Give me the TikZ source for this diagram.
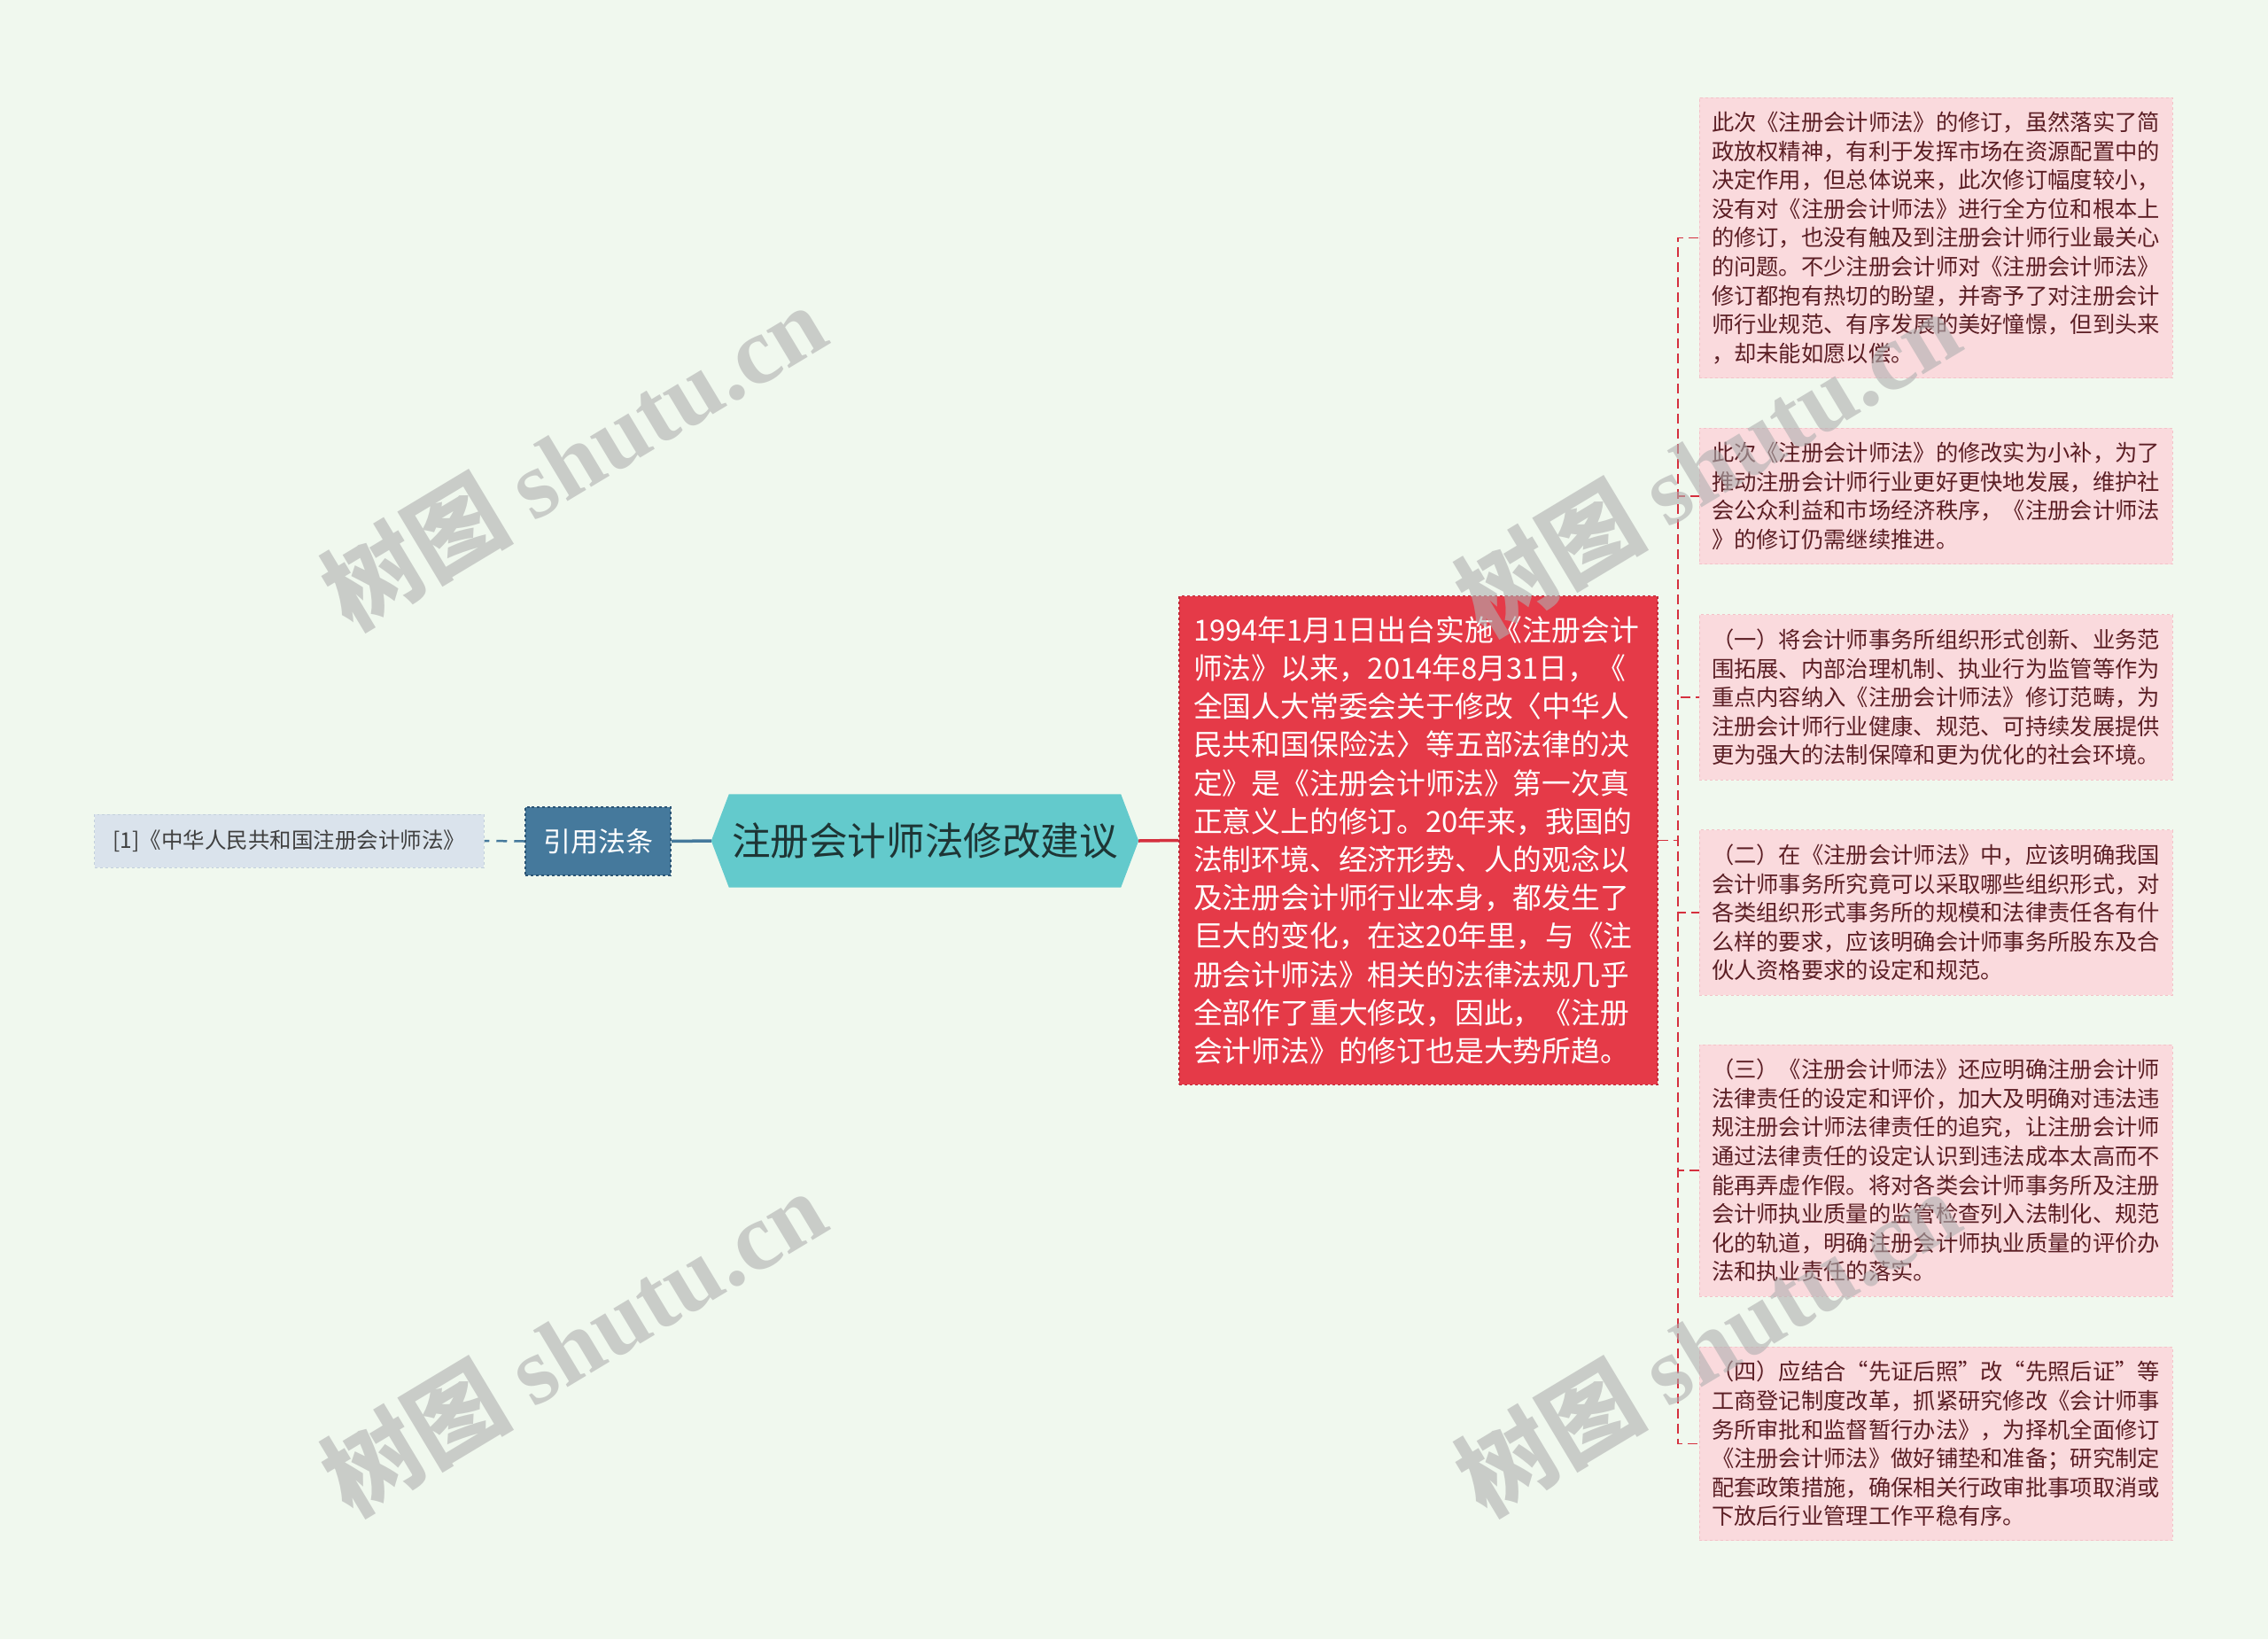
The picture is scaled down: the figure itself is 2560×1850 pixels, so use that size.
\documentclass[tikz,border=0pt]{standalone}
\usepackage{fontspec}
\setmainfont{Noto Sans CJK SC}
\newfontfamily\wmlatin{Liberation Serif}
\usetikzlibrary{backgrounds}
\definecolor{bgc}{HTML}{F0F8EE}
\definecolor{rootfill}{HTML}{63CACC}
\definecolor{roottext}{HTML}{1E3535}
\definecolor{citefill}{HTML}{45799C}
\definecolor{citeborder}{HTML}{2B5575}
\definecolor{reffill}{HTML}{DAE3EC}
\definecolor{refborder}{HTML}{C3D0DC}
\definecolor{reftext}{HTML}{404040}
\definecolor{redfill}{HTML}{E53A48}
\definecolor{redborder}{HTML}{C02A38}
\definecolor{redline}{HTML}{D5303E}
\definecolor{pinkfill}{HTML}{FADADD}
\definecolor{pinkborder}{HTML}{F3C2C8}
\definecolor{pinktext}{HTML}{5B1E24}
\definecolor{wmgray}{HTML}{B0B0B0}
\tikzset{
  rootnode/.style={minimum width=482bp, minimum height=105bp, inner sep=0pt, text=roottext, font=\fontsize{43.6bp}{50bp}\selectfont},
  citenode/.style={rectangle, fill=citefill, draw=citeborder, dashed, line width=1.5bp, minimum width=164bp, minimum height=77bp, inner sep=0pt, text=white, font=\fontsize{31bp}{36bp}\selectfont},
  refnode/.style={rectangle, fill=reffill, draw=refborder, dashed, line width=1bp, minimum width=439bp, minimum height=60bp, inner sep=0pt, text=reftext, font=\fontsize{24.5bp}{30bp}\selectfont},
  rednode/.style={rectangle, fill=redfill, draw=redborder, dashed, line width=1.5bp, text=white, text width=508bp, inner xsep=16bp, inner ysep=23bp, align=left, font=\fontsize{32.8bp}{43.2bp}\selectfont},
  pinkleaf/.style={rectangle, fill=pinkfill, draw=pinkborder, dashed, line width=1bp, text=pinktext, text width=506bp, inner xsep=14bp, inner ysep=16bp, align=left, font=\fontsize{25.3bp}{32.6bp}\selectfont},
  bluelink/.style={draw=citefill, line width=3.5bp},
  bluedash/.style={draw=citefill, line width=2.5bp, dash pattern=on 12bp off 8bp},
  redlink/.style={draw=redline, line width=3.5bp},
  reddash/.style={draw=redline, line width=1.8bp, dash pattern=on 11bp off 6bp},
  watermark/.style={rotate=31, text=wmgray, text opacity=0.6, inner sep=0pt, font=\fontsize{108bp}{116bp}\selectfont\bfseries}
}
\begin{document}
\begin{tikzpicture}[x=1bp,y=-1bp]
\useasboundingbox (0,0) rectangle (2560,1850);

\node[rootnode] (root) at (1044,949) {注册会计师法修改建议};
\node[citenode] (cite) at (675,949.5) {引用法条};
\node[refnode] (ref) at (326.5,949) {[1]《中华人民共和国注册会计师法》};

\node[rednode] (red) at (1601,948.5) {1994年1月1日出台实施《注册会计\\
师法》以来，2014年8月31日，《\\
全国人大常委会关于修改〈中华人\\
民共和国保险法〉等五部法律的决\\
定》是《注册会计师法》第一次真\\
正意义上的修订。20年来，我国的\\
法制环境、经济形势、人的观念以\\
及注册会计师行业本身，都发生了\\
巨大的变化，在这20年里，与《注\\
册会计师法》相关的法律法规几乎\\
全部作了重大修改，因此，《注册\\
会计师法》的修订也是大势所趋。};

\node[pinkleaf] (l1) at (2185,268.5) {此次《注册会计师法》的修订，虽然落实了简\\
政放权精神，有利于发挥市场在资源配置中的\\
决定作用，但总体说来，此次修订幅度较小，\\
没有对《注册会计师法》进行全方位和根本上\\
的修订，也没有触及到注册会计师行业最关心\\
的问题。不少注册会计师对《注册会计师法》\\
修订都抱有热切的盼望，并寄予了对注册会计\\
师行业规范、有序发展的美好憧憬，但到头来\\
，却未能如愿以偿。};

\node[pinkleaf] (l2) at (2185,560) {此次《注册会计师法》的修改实为小补，为了\\
推动注册会计师行业更好更快地发展，维护社\\
会公众利益和市场经济秩序，《注册会计师法\\
》的修订仍需继续推进。};

\node[pinkleaf] (l3) at (2185,787) {（一）将会计师事务所组织形式创新、业务范\\
围拓展、内部治理机制、执业行为监管等作为\\
重点内容纳入《注册会计师法》修订范畴，为\\
注册会计师行业健康、规范、可持续发展提供\\
更为强大的法制保障和更为优化的社会环境。};

\node[pinkleaf] (l4) at (2185,1030) {（二）在《注册会计师法》中，应该明确我国\\
会计师事务所究竟可以采取哪些组织形式，对\\
各类组织形式事务所的规模和法律责任各有什\\
么样的要求，应该明确会计师事务所股东及合\\
伙人资格要求的设定和规范。};

\node[pinkleaf] (l5) at (2185,1321) {（三）《注册会计师法》还应明确注册会计师\\
法律责任的设定和评价，加大及明确对违法违\\
规注册会计师法律责任的追究，让注册会计师\\
通过法律责任的设定认识到违法成本太高而不\\
能再弄虚作假。将对各类会计师事务所及注册\\
会计师执业质量的监管检查列入法制化、规范\\
化的轨道，明确注册会计师执业质量的评价办\\
法和执业责任的落实。};

\node[pinkleaf] (l6) at (2185,1629.5) {（四）应结合“先证后照”改“先照后证”等\\
工商登记制度改革，抓紧研究修改《会计师事\\
务所审批和监督暂行办法》，为择机全面修订\\
《注册会计师法》做好铺垫和准备；研究制定\\
配套政策措施，确保相关行政审批事项取消或\\
下放后行业管理工作平稳有序。};

\begin{pgfonlayer}{background}
\fill[bgc] (0,0) rectangle (2560,1850);
\fill[rootfill] ([xshift=20bp]root.north west) -- ([xshift=-20bp]root.north east) -- (root.east) -- ([xshift=-20bp]root.south east) -- ([xshift=20bp]root.south west) -- (root.west) -- cycle;
\draw[bluelink] (root.west) -- (cite.east);
\draw[bluedash] (cite.west) -- (ref.east);
\draw[redlink] (root.east) -- (red.west);
\foreach \l in {l1,l2,l3,l4,l5,l6}{
  \draw[reddash] (red.east) -- ++(22,0) |- (\l.west);
}
\end{pgfonlayer}

\node[watermark] (wm1) at (647,515) {树图 {\wmlatin\bfseries shutu.cn}};
\node[watermark] (wm2) at (647,1515) {树图 {\wmlatin\bfseries shutu.cn}};
\node[watermark] (wm3) at (1927,522) {树图 {\wmlatin\bfseries shutu.cn}};
\node[watermark] (wm4) at (1927,1515) {树图 {\wmlatin\bfseries shutu.cn}};
\end{tikzpicture}
\end{document}
